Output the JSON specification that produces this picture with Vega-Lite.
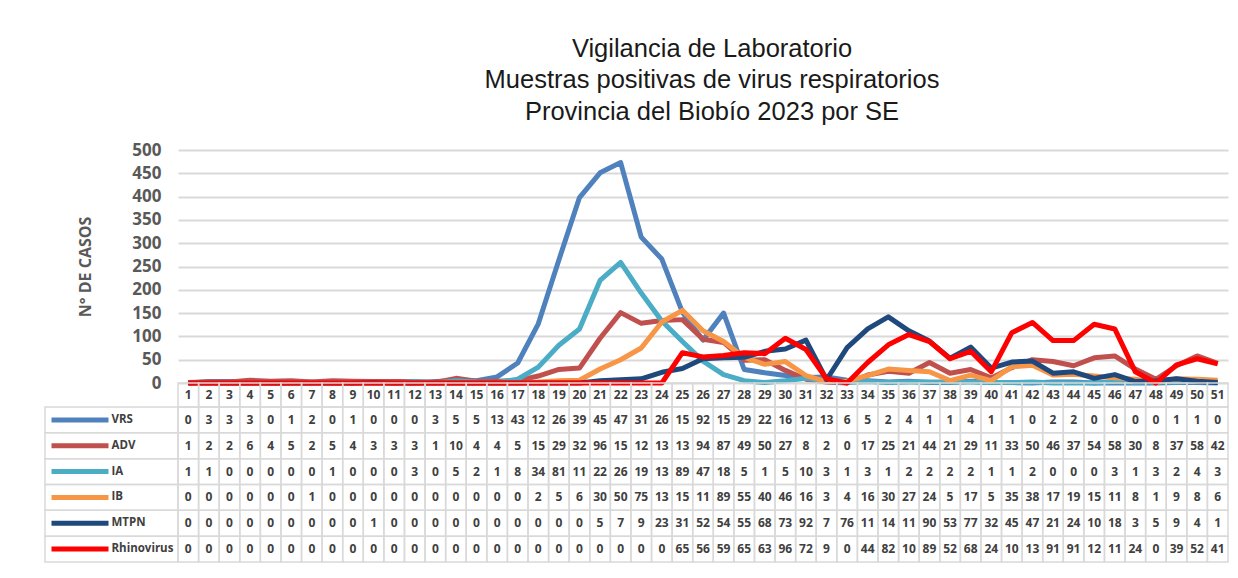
{
"$schema":"https://vega.github.io/schema/vega-lite/v6.json",
"background":"white",
"padding":{"left":44,"top":36,"right":5,"bottom":5},
"config":{"view":{"stroke":null},"font":"Open Sans"},
"columns":2,"align":"each","bounds":"flush","spacing":0,
"resolve":{"scale":{"x":"independent","y":"independent","color":"independent"}},
"datasets":{"d":[
{"SE":1,"virus":"VRS","casos":0,"t":"0"},{"SE":2,"virus":"VRS","casos":3,"t":"3"},{"SE":3,"virus":"VRS","casos":3,"t":"3"},{"SE":4,"virus":"VRS","casos":3,"t":"3"},{"SE":5,"virus":"VRS","casos":0,"t":"0"},{"SE":6,"virus":"VRS","casos":1,"t":"1"},{"SE":7,"virus":"VRS","casos":2,"t":"2"},{"SE":8,"virus":"VRS","casos":0,"t":"0"},{"SE":9,"virus":"VRS","casos":1,"t":"1"},{"SE":10,"virus":"VRS","casos":0,"t":"0"},{"SE":11,"virus":"VRS","casos":0,"t":"0"},{"SE":12,"virus":"VRS","casos":0,"t":"0"},{"SE":13,"virus":"VRS","casos":3,"t":"3"},{"SE":14,"virus":"VRS","casos":5,"t":"5"},{"SE":15,"virus":"VRS","casos":5,"t":"5"},{"SE":16,"virus":"VRS","casos":13,"t":"13"},{"SE":17,"virus":"VRS","casos":43,"t":"43"},{"SE":18,"virus":"VRS","casos":127,"t":"12"},{"SE":19,"virus":"VRS","casos":264,"t":"26"},{"SE":20,"virus":"VRS","casos":398,"t":"39"},{"SE":21,"virus":"VRS","casos":451,"t":"45"},{"SE":22,"virus":"VRS","casos":473,"t":"47"},{"SE":23,"virus":"VRS","casos":313,"t":"31"},{"SE":24,"virus":"VRS","casos":266,"t":"26"},{"SE":25,"virus":"VRS","casos":152,"t":"15"},{"SE":26,"virus":"VRS","casos":92,"t":"92"},{"SE":27,"virus":"VRS","casos":150,"t":"15"},{"SE":28,"virus":"VRS","casos":29,"t":"29"},{"SE":29,"virus":"VRS","casos":22,"t":"22"},{"SE":30,"virus":"VRS","casos":16,"t":"16"},{"SE":31,"virus":"VRS","casos":12,"t":"12"},{"SE":32,"virus":"VRS","casos":13,"t":"13"},{"SE":33,"virus":"VRS","casos":6,"t":"6"},{"SE":34,"virus":"VRS","casos":5,"t":"5"},{"SE":35,"virus":"VRS","casos":2,"t":"2"},{"SE":36,"virus":"VRS","casos":4,"t":"4"},{"SE":37,"virus":"VRS","casos":1,"t":"1"},{"SE":38,"virus":"VRS","casos":1,"t":"1"},{"SE":39,"virus":"VRS","casos":4,"t":"4"},{"SE":40,"virus":"VRS","casos":1,"t":"1"},{"SE":41,"virus":"VRS","casos":1,"t":"1"},{"SE":42,"virus":"VRS","casos":0,"t":"0"},{"SE":43,"virus":"VRS","casos":2,"t":"2"},{"SE":44,"virus":"VRS","casos":2,"t":"2"},{"SE":45,"virus":"VRS","casos":0,"t":"0"},{"SE":46,"virus":"VRS","casos":0,"t":"0"},{"SE":47,"virus":"VRS","casos":0,"t":"0"},{"SE":48,"virus":"VRS","casos":0,"t":"0"},{"SE":49,"virus":"VRS","casos":1,"t":"1"},{"SE":50,"virus":"VRS","casos":1,"t":"1"},{"SE":51,"virus":"VRS","casos":0,"t":"0"},
{"SE":1,"virus":"ADV","casos":1,"t":"1"},{"SE":2,"virus":"ADV","casos":2,"t":"2"},{"SE":3,"virus":"ADV","casos":2,"t":"2"},{"SE":4,"virus":"ADV","casos":6,"t":"6"},{"SE":5,"virus":"ADV","casos":4,"t":"4"},{"SE":6,"virus":"ADV","casos":5,"t":"5"},{"SE":7,"virus":"ADV","casos":2,"t":"2"},{"SE":8,"virus":"ADV","casos":5,"t":"5"},{"SE":9,"virus":"ADV","casos":4,"t":"4"},{"SE":10,"virus":"ADV","casos":3,"t":"3"},{"SE":11,"virus":"ADV","casos":3,"t":"3"},{"SE":12,"virus":"ADV","casos":3,"t":"3"},{"SE":13,"virus":"ADV","casos":1,"t":"1"},{"SE":14,"virus":"ADV","casos":10,"t":"10"},{"SE":15,"virus":"ADV","casos":4,"t":"4"},{"SE":16,"virus":"ADV","casos":4,"t":"4"},{"SE":17,"virus":"ADV","casos":5,"t":"5"},{"SE":18,"virus":"ADV","casos":15,"t":"15"},{"SE":19,"virus":"ADV","casos":29,"t":"29"},{"SE":20,"virus":"ADV","casos":32,"t":"32"},{"SE":21,"virus":"ADV","casos":96,"t":"96"},{"SE":22,"virus":"ADV","casos":151,"t":"15"},{"SE":23,"virus":"ADV","casos":128,"t":"12"},{"SE":24,"virus":"ADV","casos":134,"t":"13"},{"SE":25,"virus":"ADV","casos":136,"t":"13"},{"SE":26,"virus":"ADV","casos":94,"t":"94"},{"SE":27,"virus":"ADV","casos":87,"t":"87"},{"SE":28,"virus":"ADV","casos":49,"t":"49"},{"SE":29,"virus":"ADV","casos":50,"t":"50"},{"SE":30,"virus":"ADV","casos":27,"t":"27"},{"SE":31,"virus":"ADV","casos":8,"t":"8"},{"SE":32,"virus":"ADV","casos":2,"t":"2"},{"SE":33,"virus":"ADV","casos":0,"t":"0"},{"SE":34,"virus":"ADV","casos":17,"t":"17"},{"SE":35,"virus":"ADV","casos":25,"t":"25"},{"SE":36,"virus":"ADV","casos":21,"t":"21"},{"SE":37,"virus":"ADV","casos":44,"t":"44"},{"SE":38,"virus":"ADV","casos":21,"t":"21"},{"SE":39,"virus":"ADV","casos":29,"t":"29"},{"SE":40,"virus":"ADV","casos":11,"t":"11"},{"SE":41,"virus":"ADV","casos":33,"t":"33"},{"SE":42,"virus":"ADV","casos":50,"t":"50"},{"SE":43,"virus":"ADV","casos":46,"t":"46"},{"SE":44,"virus":"ADV","casos":37,"t":"37"},{"SE":45,"virus":"ADV","casos":54,"t":"54"},{"SE":46,"virus":"ADV","casos":58,"t":"58"},{"SE":47,"virus":"ADV","casos":30,"t":"30"},{"SE":48,"virus":"ADV","casos":8,"t":"8"},{"SE":49,"virus":"ADV","casos":37,"t":"37"},{"SE":50,"virus":"ADV","casos":58,"t":"58"},{"SE":51,"virus":"ADV","casos":42,"t":"42"},
{"SE":1,"virus":"IA","casos":1,"t":"1"},{"SE":2,"virus":"IA","casos":1,"t":"1"},{"SE":3,"virus":"IA","casos":0,"t":"0"},{"SE":4,"virus":"IA","casos":0,"t":"0"},{"SE":5,"virus":"IA","casos":0,"t":"0"},{"SE":6,"virus":"IA","casos":0,"t":"0"},{"SE":7,"virus":"IA","casos":0,"t":"0"},{"SE":8,"virus":"IA","casos":1,"t":"1"},{"SE":9,"virus":"IA","casos":0,"t":"0"},{"SE":10,"virus":"IA","casos":0,"t":"0"},{"SE":11,"virus":"IA","casos":0,"t":"0"},{"SE":12,"virus":"IA","casos":3,"t":"3"},{"SE":13,"virus":"IA","casos":0,"t":"0"},{"SE":14,"virus":"IA","casos":5,"t":"5"},{"SE":15,"virus":"IA","casos":2,"t":"2"},{"SE":16,"virus":"IA","casos":1,"t":"1"},{"SE":17,"virus":"IA","casos":8,"t":"8"},{"SE":18,"virus":"IA","casos":34,"t":"34"},{"SE":19,"virus":"IA","casos":81,"t":"81"},{"SE":20,"virus":"IA","casos":116,"t":"11"},{"SE":21,"virus":"IA","casos":220,"t":"22"},{"SE":22,"virus":"IA","casos":259,"t":"26"},{"SE":23,"virus":"IA","casos":193,"t":"19"},{"SE":24,"virus":"IA","casos":133,"t":"13"},{"SE":25,"virus":"IA","casos":89,"t":"89"},{"SE":26,"virus":"IA","casos":47,"t":"47"},{"SE":27,"virus":"IA","casos":18,"t":"18"},{"SE":28,"virus":"IA","casos":5,"t":"5"},{"SE":29,"virus":"IA","casos":1,"t":"1"},{"SE":30,"virus":"IA","casos":5,"t":"5"},{"SE":31,"virus":"IA","casos":10,"t":"10"},{"SE":32,"virus":"IA","casos":3,"t":"3"},{"SE":33,"virus":"IA","casos":1,"t":"1"},{"SE":34,"virus":"IA","casos":3,"t":"3"},{"SE":35,"virus":"IA","casos":1,"t":"1"},{"SE":36,"virus":"IA","casos":2,"t":"2"},{"SE":37,"virus":"IA","casos":2,"t":"2"},{"SE":38,"virus":"IA","casos":2,"t":"2"},{"SE":39,"virus":"IA","casos":2,"t":"2"},{"SE":40,"virus":"IA","casos":1,"t":"1"},{"SE":41,"virus":"IA","casos":1,"t":"1"},{"SE":42,"virus":"IA","casos":2,"t":"2"},{"SE":43,"virus":"IA","casos":0,"t":"0"},{"SE":44,"virus":"IA","casos":0,"t":"0"},{"SE":45,"virus":"IA","casos":0,"t":"0"},{"SE":46,"virus":"IA","casos":3,"t":"3"},{"SE":47,"virus":"IA","casos":1,"t":"1"},{"SE":48,"virus":"IA","casos":3,"t":"3"},{"SE":49,"virus":"IA","casos":2,"t":"2"},{"SE":50,"virus":"IA","casos":4,"t":"4"},{"SE":51,"virus":"IA","casos":3,"t":"3"},
{"SE":1,"virus":"IB","casos":0,"t":"0"},{"SE":2,"virus":"IB","casos":0,"t":"0"},{"SE":3,"virus":"IB","casos":0,"t":"0"},{"SE":4,"virus":"IB","casos":0,"t":"0"},{"SE":5,"virus":"IB","casos":0,"t":"0"},{"SE":6,"virus":"IB","casos":0,"t":"0"},{"SE":7,"virus":"IB","casos":1,"t":"1"},{"SE":8,"virus":"IB","casos":0,"t":"0"},{"SE":9,"virus":"IB","casos":0,"t":"0"},{"SE":10,"virus":"IB","casos":0,"t":"0"},{"SE":11,"virus":"IB","casos":0,"t":"0"},{"SE":12,"virus":"IB","casos":0,"t":"0"},{"SE":13,"virus":"IB","casos":0,"t":"0"},{"SE":14,"virus":"IB","casos":0,"t":"0"},{"SE":15,"virus":"IB","casos":0,"t":"0"},{"SE":16,"virus":"IB","casos":0,"t":"0"},{"SE":17,"virus":"IB","casos":0,"t":"0"},{"SE":18,"virus":"IB","casos":2,"t":"2"},{"SE":19,"virus":"IB","casos":5,"t":"5"},{"SE":20,"virus":"IB","casos":6,"t":"6"},{"SE":21,"virus":"IB","casos":30,"t":"30"},{"SE":22,"virus":"IB","casos":50,"t":"50"},{"SE":23,"virus":"IB","casos":75,"t":"75"},{"SE":24,"virus":"IB","casos":131,"t":"13"},{"SE":25,"virus":"IB","casos":156,"t":"15"},{"SE":26,"virus":"IB","casos":112,"t":"11"},{"SE":27,"virus":"IB","casos":89,"t":"89"},{"SE":28,"virus":"IB","casos":55,"t":"55"},{"SE":29,"virus":"IB","casos":40,"t":"40"},{"SE":30,"virus":"IB","casos":46,"t":"46"},{"SE":31,"virus":"IB","casos":16,"t":"16"},{"SE":32,"virus":"IB","casos":3,"t":"3"},{"SE":33,"virus":"IB","casos":4,"t":"4"},{"SE":34,"virus":"IB","casos":16,"t":"16"},{"SE":35,"virus":"IB","casos":30,"t":"30"},{"SE":36,"virus":"IB","casos":27,"t":"27"},{"SE":37,"virus":"IB","casos":24,"t":"24"},{"SE":38,"virus":"IB","casos":5,"t":"5"},{"SE":39,"virus":"IB","casos":17,"t":"17"},{"SE":40,"virus":"IB","casos":5,"t":"5"},{"SE":41,"virus":"IB","casos":35,"t":"35"},{"SE":42,"virus":"IB","casos":38,"t":"38"},{"SE":43,"virus":"IB","casos":17,"t":"17"},{"SE":44,"virus":"IB","casos":19,"t":"19"},{"SE":45,"virus":"IB","casos":15,"t":"15"},{"SE":46,"virus":"IB","casos":11,"t":"11"},{"SE":47,"virus":"IB","casos":8,"t":"8"},{"SE":48,"virus":"IB","casos":1,"t":"1"},{"SE":49,"virus":"IB","casos":9,"t":"9"},{"SE":50,"virus":"IB","casos":8,"t":"8"},{"SE":51,"virus":"IB","casos":6,"t":"6"},
{"SE":1,"virus":"MTPN","casos":0,"t":"0"},{"SE":2,"virus":"MTPN","casos":0,"t":"0"},{"SE":3,"virus":"MTPN","casos":0,"t":"0"},{"SE":4,"virus":"MTPN","casos":0,"t":"0"},{"SE":5,"virus":"MTPN","casos":0,"t":"0"},{"SE":6,"virus":"MTPN","casos":0,"t":"0"},{"SE":7,"virus":"MTPN","casos":0,"t":"0"},{"SE":8,"virus":"MTPN","casos":0,"t":"0"},{"SE":9,"virus":"MTPN","casos":0,"t":"0"},{"SE":10,"virus":"MTPN","casos":1,"t":"1"},{"SE":11,"virus":"MTPN","casos":0,"t":"0"},{"SE":12,"virus":"MTPN","casos":0,"t":"0"},{"SE":13,"virus":"MTPN","casos":0,"t":"0"},{"SE":14,"virus":"MTPN","casos":0,"t":"0"},{"SE":15,"virus":"MTPN","casos":0,"t":"0"},{"SE":16,"virus":"MTPN","casos":0,"t":"0"},{"SE":17,"virus":"MTPN","casos":0,"t":"0"},{"SE":18,"virus":"MTPN","casos":0,"t":"0"},{"SE":19,"virus":"MTPN","casos":0,"t":"0"},{"SE":20,"virus":"MTPN","casos":0,"t":"0"},{"SE":21,"virus":"MTPN","casos":5,"t":"5"},{"SE":22,"virus":"MTPN","casos":7,"t":"7"},{"SE":23,"virus":"MTPN","casos":9,"t":"9"},{"SE":24,"virus":"MTPN","casos":23,"t":"23"},{"SE":25,"virus":"MTPN","casos":31,"t":"31"},{"SE":26,"virus":"MTPN","casos":52,"t":"52"},{"SE":27,"virus":"MTPN","casos":54,"t":"54"},{"SE":28,"virus":"MTPN","casos":55,"t":"55"},{"SE":29,"virus":"MTPN","casos":68,"t":"68"},{"SE":30,"virus":"MTPN","casos":73,"t":"73"},{"SE":31,"virus":"MTPN","casos":92,"t":"92"},{"SE":32,"virus":"MTPN","casos":7,"t":"7"},{"SE":33,"virus":"MTPN","casos":76,"t":"76"},{"SE":34,"virus":"MTPN","casos":116,"t":"11"},{"SE":35,"virus":"MTPN","casos":142,"t":"14"},{"SE":36,"virus":"MTPN","casos":112,"t":"11"},{"SE":37,"virus":"MTPN","casos":90,"t":"90"},{"SE":38,"virus":"MTPN","casos":53,"t":"53"},{"SE":39,"virus":"MTPN","casos":77,"t":"77"},{"SE":40,"virus":"MTPN","casos":32,"t":"32"},{"SE":41,"virus":"MTPN","casos":45,"t":"45"},{"SE":42,"virus":"MTPN","casos":47,"t":"47"},{"SE":43,"virus":"MTPN","casos":21,"t":"21"},{"SE":44,"virus":"MTPN","casos":24,"t":"24"},{"SE":45,"virus":"MTPN","casos":10,"t":"10"},{"SE":46,"virus":"MTPN","casos":18,"t":"18"},{"SE":47,"virus":"MTPN","casos":3,"t":"3"},{"SE":48,"virus":"MTPN","casos":5,"t":"5"},{"SE":49,"virus":"MTPN","casos":9,"t":"9"},{"SE":50,"virus":"MTPN","casos":4,"t":"4"},{"SE":51,"virus":"MTPN","casos":1,"t":"1"},
{"SE":1,"virus":"Rhinovirus","casos":0,"t":"0"},{"SE":2,"virus":"Rhinovirus","casos":0,"t":"0"},{"SE":3,"virus":"Rhinovirus","casos":0,"t":"0"},{"SE":4,"virus":"Rhinovirus","casos":0,"t":"0"},{"SE":5,"virus":"Rhinovirus","casos":0,"t":"0"},{"SE":6,"virus":"Rhinovirus","casos":0,"t":"0"},{"SE":7,"virus":"Rhinovirus","casos":0,"t":"0"},{"SE":8,"virus":"Rhinovirus","casos":0,"t":"0"},{"SE":9,"virus":"Rhinovirus","casos":0,"t":"0"},{"SE":10,"virus":"Rhinovirus","casos":0,"t":"0"},{"SE":11,"virus":"Rhinovirus","casos":0,"t":"0"},{"SE":12,"virus":"Rhinovirus","casos":0,"t":"0"},{"SE":13,"virus":"Rhinovirus","casos":0,"t":"0"},{"SE":14,"virus":"Rhinovirus","casos":0,"t":"0"},{"SE":15,"virus":"Rhinovirus","casos":0,"t":"0"},{"SE":16,"virus":"Rhinovirus","casos":0,"t":"0"},{"SE":17,"virus":"Rhinovirus","casos":0,"t":"0"},{"SE":18,"virus":"Rhinovirus","casos":0,"t":"0"},{"SE":19,"virus":"Rhinovirus","casos":0,"t":"0"},{"SE":20,"virus":"Rhinovirus","casos":0,"t":"0"},{"SE":21,"virus":"Rhinovirus","casos":0,"t":"0"},{"SE":22,"virus":"Rhinovirus","casos":0,"t":"0"},{"SE":23,"virus":"Rhinovirus","casos":0,"t":"0"},{"SE":24,"virus":"Rhinovirus","casos":0,"t":"0"},{"SE":25,"virus":"Rhinovirus","casos":65,"t":"65"},{"SE":26,"virus":"Rhinovirus","casos":56,"t":"56"},{"SE":27,"virus":"Rhinovirus","casos":59,"t":"59"},{"SE":28,"virus":"Rhinovirus","casos":65,"t":"65"},{"SE":29,"virus":"Rhinovirus","casos":63,"t":"63"},{"SE":30,"virus":"Rhinovirus","casos":96,"t":"96"},{"SE":31,"virus":"Rhinovirus","casos":72,"t":"72"},{"SE":32,"virus":"Rhinovirus","casos":9,"t":"9"},{"SE":33,"virus":"Rhinovirus","casos":0,"t":"0"},{"SE":34,"virus":"Rhinovirus","casos":44,"t":"44"},{"SE":35,"virus":"Rhinovirus","casos":82,"t":"82"},{"SE":36,"virus":"Rhinovirus","casos":104,"t":"10"},{"SE":37,"virus":"Rhinovirus","casos":89,"t":"89"},{"SE":38,"virus":"Rhinovirus","casos":52,"t":"52"},{"SE":39,"virus":"Rhinovirus","casos":68,"t":"68"},{"SE":40,"virus":"Rhinovirus","casos":24,"t":"24"},{"SE":41,"virus":"Rhinovirus","casos":108,"t":"10"},{"SE":42,"virus":"Rhinovirus","casos":130,"t":"13"},{"SE":43,"virus":"Rhinovirus","casos":91,"t":"91"},{"SE":44,"virus":"Rhinovirus","casos":91,"t":"91"},{"SE":45,"virus":"Rhinovirus","casos":126,"t":"12"},{"SE":46,"virus":"Rhinovirus","casos":116,"t":"11"},{"SE":47,"virus":"Rhinovirus","casos":24,"t":"24"},{"SE":48,"virus":"Rhinovirus","casos":0,"t":"0"},{"SE":49,"virus":"Rhinovirus","casos":39,"t":"39"},{"SE":50,"virus":"Rhinovirus","casos":52,"t":"52"},{"SE":51,"virus":"Rhinovirus","casos":41,"t":"41"}
]},
"concat":[
{"width":133,"height":233,"data":{"values":[]},"mark":"point"},
{"width":1050,"height":233,
 "title":{"text":["Vigilancia de Laboratorio","Muestras positivas de virus respiratorios","Provincia del Biobío 2023 por SE"],"font":"Liberation Sans","fontSize":25.5,"fontWeight":"normal","lineHeight":31.5,"color":"#1a1a1a","anchor":"middle","offset":16,"dx":9},
 "data":{"name":"d"},
 "mark":{"type":"line","strokeWidth":5,"strokeJoin":"round"},
 "encoding":{
  "x":{"field":"SE","type":"ordinal","scale":{"type":"point","padding":0.5},"axis":null},
  "y":{"field":"casos","type":"quantitative","scale":{"domain":[0,500]},
   "axis":{"values":[0,50,100,150,200,250,300,350,400,450,500],"title":"N° DE CASOS","titleFont":"Open Sans","titleFontSize":16,"titleFontWeight":"bold","titleColor":"#595959","titlePadding":38,"labelFont":"Open Sans","labelFontSize":17,"labelFontWeight":"bold","labelColor":"#595959","labelPadding":17,"ticks":false,"domain":false,"grid":true,"gridColor":"#d9d9d9","gridWidth":2}},
  "color":{"field":"virus","type":"nominal","scale":{"domain":["VRS","ADV","IA","IB","MTPN","Rhinovirus"],"range":["#4f81bd","#c0504d","#4bacc6","#f79646","#1f497d","#ff0000"]},"legend":null}
 }
},
{"width":133,"height":24,"data":{"values":[]},"mark":"point"},
{"width":1050,"height":24,
 "data":{"name":"d"},
 "transform":[{"filter":"datum.virus == 'VRS'"}],
 "encoding":{"x":{"field":"SE","type":"ordinal","scale":{"type":"band","paddingInner":0,"paddingOuter":0},"axis":null}},
 "layer":[
  {"mark":{"type":"rect","filled":false,"stroke":"#d9d9d9","strokeWidth":1.5}},
  {"mark":{"type":"text","fontWeight":"bold","fontSize":12,"color":"#404040"},"encoding":{"text":{"field":"SE","type":"ordinal"}}}
 ]
},
{"width":133,"height":155,
 "data":{"name":"d"},
 "transform":[{"filter":"datum.SE == 1"}],
 "encoding":{"y":{"field":"virus","type":"nominal","scale":{"type":"band","domain":["VRS","ADV","IA","IB","MTPN","Rhinovirus"],"paddingInner":0,"paddingOuter":0},"axis":null}},
 "layer":[
  {"mark":{"type":"rect","filled":false,"stroke":"#d9d9d9","strokeWidth":1.5}},
  {"mark":{"type":"tick","orient":"horizontal","size":57,"thickness":5,"xOffset":-31.5,"opacity":1},
   "encoding":{"color":{"field":"virus","type":"nominal","scale":{"domain":["VRS","ADV","IA","IB","MTPN","Rhinovirus"],"range":["#4f81bd","#c0504d","#4bacc6","#f79646","#1f497d","#ff0000"]},"legend":null}}},
  {"mark":{"type":"text","align":"left","dx":0,"fontWeight":"bold","fontSize":11.5,"color":"#404040"},"encoding":{"text":{"field":"virus","type":"nominal"}}}
 ]
},
{"width":1050,"height":155,
 "data":{"name":"d"},
 "encoding":{
  "x":{"field":"SE","type":"ordinal","scale":{"type":"band","paddingInner":0,"paddingOuter":0},"axis":null},
  "y":{"field":"virus","type":"nominal","scale":{"type":"band","domain":["VRS","ADV","IA","IB","MTPN","Rhinovirus"],"paddingInner":0,"paddingOuter":0},"axis":null}
 },
 "layer":[
  {"mark":{"type":"rect","filled":false,"stroke":"#d9d9d9","strokeWidth":1.5}},
  {"mark":{"type":"text","fontWeight":"bold","fontSize":12,"color":"#404040"},"encoding":{"text":{"field":"t","type":"nominal"}}}
 ]
}
]
}
